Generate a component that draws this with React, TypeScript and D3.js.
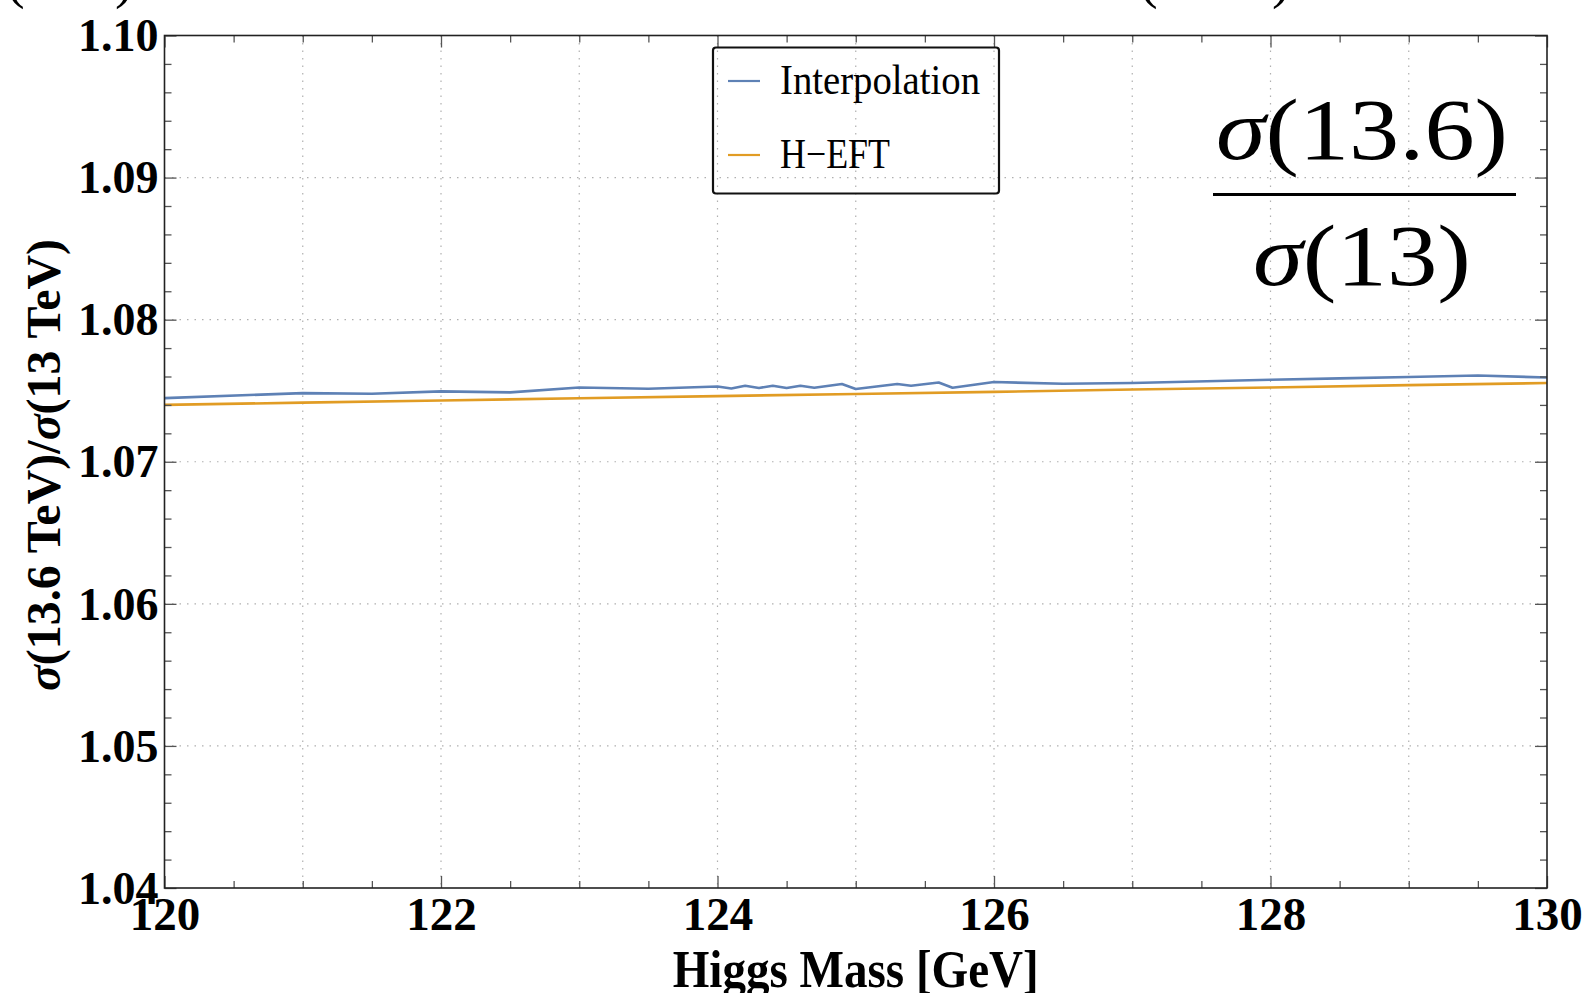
import * as d3 from 'd3';
import React, { useRef, useEffect } from 'react';

// Interpolation curve (blue)
const interpMass = [120, 121, 121.5, 122, 122.5, 123, 123.5, 124, 124.1, 124.2, 124.3, 124.4, 124.5, 124.6, 124.7, 124.9, 125, 125.3, 125.4, 125.6, 125.7, 126, 126.5, 127, 128, 128.5, 129, 129.5, 130];
const interpRatio = [1.07448, 1.07483, 1.07479, 1.07495, 1.07488, 1.07523, 1.07514, 1.0753, 1.07516, 1.07535, 1.07519, 1.07535, 1.07519, 1.07535, 1.07521, 1.07547, 1.07512, 1.07547, 1.07535, 1.07558, 1.07521, 1.07561, 1.07549, 1.07554, 1.07577, 1.07587, 1.07596, 1.07607, 1.07593];

// H-EFT curve (orange)
const heftMass = [120, 121, 122, 123, 124, 125, 126, 127, 128, 129, 130];
const heftRatio = [1.074, 1.07416, 1.07431, 1.07447, 1.07462, 1.07477, 1.07492, 1.07508, 1.07523, 1.07539, 1.07554];

const xMajor = [120, 122, 124, 126, 128, 130];
const xMinor = [120.5, 121, 121.5, 122.5, 123, 123.5, 124.5, 125, 125.5, 126.5, 127, 127.5, 128.5, 129, 129.5];
const xGrid = [121, 122, 123, 124, 125, 126, 127, 128, 129];
const yMajor = [1.04, 1.05, 1.06, 1.07, 1.08, 1.09, 1.1];
const yMinor = [1.042, 1.044, 1.046, 1.048, 1.052, 1.054, 1.056, 1.058, 1.062, 1.064, 1.066, 1.068, 1.072, 1.074, 1.076, 1.078, 1.082, 1.084, 1.086, 1.088, 1.092, 1.094, 1.096, 1.098];
const yGrid = [1.05, 1.06, 1.07, 1.08, 1.09];

const seriesNames = ['Interpolation', 'H\u2212EFT'];
const colors = ['#5e81b5', '#e19c24'];

const W = 1588;
const H = 993;

const App = () => {
    const ref = useRef<SVGSVGElement>(null);

    useEffect(() => {
        const svg = d3.select(ref.current);
        svg.selectAll('*').remove();

        const margin = { top: 35.5, right: 41, bottom: 105, left: 164.5 };
        const w = W - margin.left - margin.right;
        const h = H - margin.top - margin.bottom;

        const g = svg.append('g')
            .attr('transform', `translate(${margin.left}, ${margin.top})`);

        const x = d3.scaleLinear().domain([120, 130]).range([0, w]);
        const y = d3.scaleLinear().domain([1.04, 1.1]).range([h, 0]);

        const serif = '"Liberation Serif", "Times New Roman", serif';

        // grid
        g.append('g').selectAll('line').data(xGrid).enter().append('line')
            .attr('x1', d => x(d)).attr('x2', d => x(d))
            .attr('y1', 0).attr('y2', h)
            .attr('stroke', '#b0b0b0').attr('stroke-width', 1.2)
            .attr('stroke-dasharray', '1.5 6');
        g.append('g').selectAll('line').data(yGrid).enter().append('line')
            .attr('y1', d => y(d)).attr('y2', d => y(d))
            .attr('x1', 0).attr('x2', w)
            .attr('stroke', '#b0b0b0').attr('stroke-width', 1.2)
            .attr('stroke-dasharray', '1.5 6');

        // lines
        const line = d3.line<[number, number]>()
            .x(d => x(d[0]))
            .y(d => y(d[1]));

        const interp = interpMass.map((m, i) => [m, interpRatio[i]] as [number, number]);
        const heft = heftMass.map((m, i) => [m, heftRatio[i]] as [number, number]);

        g.append('path').datum(heft)
            .attr('d', line).attr('fill', 'none')
            .attr('stroke', colors[1]).attr('stroke-width', 2.6);
        g.append('path').datum(interp)
            .attr('d', line).attr('fill', 'none')
            .attr('stroke', colors[0]).attr('stroke-width', 2.6)
            .attr('stroke-linejoin', 'round');

        // ticks (inward, on all four sides)
        const tickCol = '#555';
        const axisStyle = (sel: any) => {
            sel.select('.domain').remove();
            sel.selectAll('.tick line').attr('stroke', tickCol).attr('stroke-width', 1.3);
        };

        g.append('g').attr('transform', `translate(0, ${h})`)
            .call(d3.axisBottom(x).tickValues(xMinor).tickSize(-7).tickFormat(() => ''))
            .call(axisStyle);
        g.append('g')
            .call(d3.axisTop(x).tickValues(xMinor).tickSize(-7).tickFormat(() => ''))
            .call(axisStyle);
        g.append('g')
            .call(d3.axisTop(x).tickValues(xMajor).tickSize(-12).tickFormat(() => ''))
            .call(axisStyle);
        const xAxis = g.append('g').attr('transform', `translate(0, ${h})`)
            .call(d3.axisBottom(x).tickValues(xMajor).tickSize(-12).tickPadding(0).tickFormat(d => String(d)))
            .call(axisStyle);
        xAxis.selectAll('.tick text')
            .attr('fill', '#000')
            .attr('font-family', serif).attr('font-weight', 'bold')
            .attr('font-size', 47).attr('dy', 0).attr('y', 42);

        g.append('g')
            .call(d3.axisLeft(y).tickValues(yMinor).tickSize(-7).tickFormat(() => ''))
            .call(axisStyle);
        g.append('g').attr('transform', `translate(${w}, 0)`)
            .call(d3.axisRight(y).tickValues(yMinor).tickSize(-7).tickFormat(() => ''))
            .call(axisStyle);
        g.append('g').attr('transform', `translate(${w}, 0)`)
            .call(d3.axisRight(y).tickValues(yMajor).tickSize(-12).tickFormat(() => ''))
            .call(axisStyle);
        const yAxis = g.append('g')
            .call(d3.axisLeft(y).tickValues(yMajor).tickSize(-12).tickPadding(0).tickFormat(d3.format('.2f')))
            .call(axisStyle);
        yAxis.selectAll('.tick text')
            .attr('fill', '#000')
            .attr('font-family', serif).attr('font-weight', 'bold')
            .attr('font-size', 46).attr('x', -6).attr('dy', '0.33em');

        // frame
        g.append('rect')
            .attr('width', w).attr('height', h)
            .attr('fill', 'none').attr('stroke', '#222').attr('stroke-width', 1.6);

        // axis titles
        svg.append('text')
            .attr('x', margin.left + w / 2).attr('y', 987)
            .attr('text-anchor', 'middle')
            .attr('font-family', serif).attr('font-weight', 'bold').attr('font-size', 52)
            .attr('textLength', 366).attr('lengthAdjust', 'spacingAndGlyphs')
            .text('Higgs Mass [GeV]');

        const yl = svg.append('text')
            .attr('transform', 'translate(60, 465) rotate(-90)')
            .attr('text-anchor', 'middle')
            .attr('font-family', serif).attr('font-weight', 'bold').attr('font-size', 48);
        yl.append('tspan').attr('font-style', 'italic').text('\u03c3');
        yl.append('tspan').text('(13.6 TeV)/');
        yl.append('tspan').attr('font-style', 'italic').text('\u03c3');
        yl.append('tspan').text('(13 TeV)');

        // legend
        const lg = svg.append('g');
        lg.append('rect')
            .attr('x', 713).attr('y', 47.5).attr('width', 286).attr('height', 146)
            .attr('rx', 3).attr('fill', 'none').attr('stroke', '#111').attr('stroke-width', 2.2);
        const legY = [81, 155];
        seriesNames.forEach((name, i) => {
            lg.append('line')
                .attr('x1', 728).attr('x2', 760).attr('y1', legY[i]).attr('y2', legY[i])
                .attr('stroke', colors[i]).attr('stroke-width', 2.2);
            lg.append('text')
                .attr('x', 780).attr('y', legY[i] + 13)
                .attr('font-family', serif).attr('font-size', 42)
                .attr('textLength', i === 0 ? 200 : 110).attr('lengthAdjust', 'spacingAndGlyphs')
                .text(name);
        });

        // big fraction
        const num = svg.append('text')
            .attr('x', 1362).attr('y', 159).attr('text-anchor', 'middle')
            .attr('font-family', serif).attr('font-size', 86)
            .attr('textLength', 292).attr('lengthAdjust', 'spacingAndGlyphs');
        num.append('tspan').attr('font-style', 'italic').text('\u03c3');
        num.append('tspan').text('(13.6)');
        svg.append('line')
            .attr('x1', 1213).attr('x2', 1516).attr('y1', 194.5).attr('y2', 194.5)
            .attr('stroke', '#000').attr('stroke-width', 3.2);
        const den = svg.append('text')
            .attr('x', 1362).attr('y', 285).attr('text-anchor', 'middle')
            .attr('font-family', serif).attr('font-size', 86)
            .attr('textLength', 218).attr('lengthAdjust', 'spacingAndGlyphs');
        den.append('tspan').attr('font-style', 'italic').text('\u03c3');
        den.append('tspan').text('(13)');

        // clipped parentheses from the text above the frame
        [[6, '('], [115, ')'], [1139, '('], [1272, ')']].forEach(([px, ch]) => {
            svg.append('text')
                .attr('x', px as number).attr('y', -3)
                .attr('font-family', serif).attr('font-size', 56)
                .text(ch as string);
        });
    }, []);

    return (
        <div className='chart'>
            <svg ref={ref} width={W} height={H}
                style={{ position: 'absolute', left: 0, top: 0, background: '#fff' }}>
            </svg>
        </div>
    );
};

export default App;
